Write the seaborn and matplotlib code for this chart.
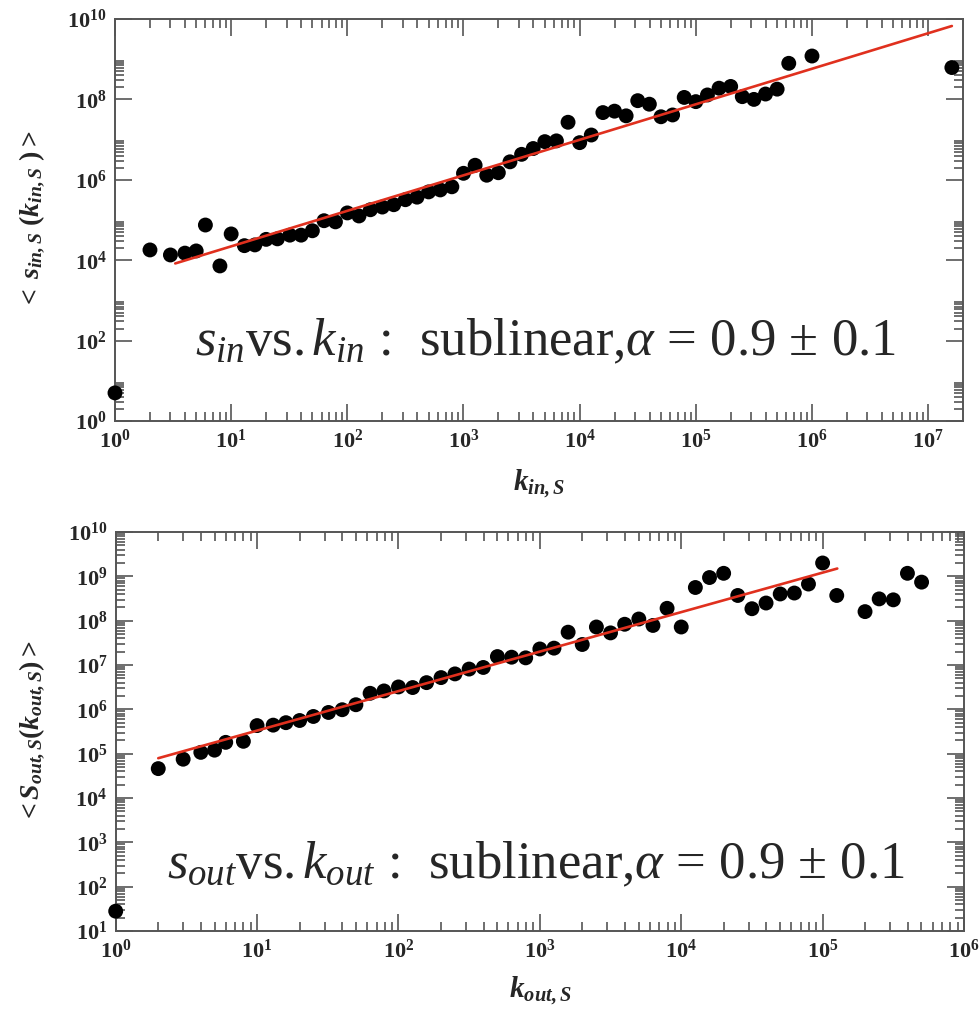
import numpy as np
import matplotlib
matplotlib.use("Agg")
import matplotlib.pyplot as plt
import matplotlib.ticker as mticker
import seaborn as sns

# ---------------- data ----------------
k_in = [1, 2, 3, 4, 5, 6, 8,
        10, 13, 16, 20, 25, 32, 40, 50, 63, 79,
        100, 126, 158, 200, 251, 316, 398, 501, 631, 794,
        1000, 1259, 1585, 1995, 2512, 3162, 3981, 5012, 6310, 7943,
        10000, 12589, 15849, 19953, 25119, 31623, 39811, 50119, 63096, 79433,
        100000, 125893, 158489, 199526, 251189, 316228, 398107, 501187, 630957,
        1000000, 16000000]
s_in = [5, 1.8e4, 1.35e4, 1.5e4, 1.7e4, 7.5e4, 7.2e3,
        4.5e4, 2.3e4, 2.4e4, 3.3e4, 3.4e4, 4.2e4, 4.2e4, 5.4e4, 9.6e4, 9.0e4,
        1.5e5, 1.26e5, 1.8e5, 2.1e5, 2.4e5, 3.2e5, 3.7e5, 5.0e5, 5.6e5, 6.7e5,
        1.45e6, 2.3e6, 1.3e6, 1.5e6, 2.8e6, 4.3e6, 6.0e6, 8.9e6, 9.3e6, 2.7e7,
        8.4e6, 1.3e7, 4.7e7, 5.1e7, 3.9e7, 9.3e7, 7.6e7, 3.7e7, 4.1e7, 1.12e8,
        8.8e7, 1.29e8, 1.9e8, 2.1e8, 1.17e8, 1.0e8, 1.36e8, 1.8e8, 7.9e8,
        1.2e9, 6.2e8]
fit_in_k = [3.3, 1.6e7]
fit_in_s = [8.3e3, 6.7e9]

k_out = [1, 2, 3, 4, 5, 6, 8,
         10, 13, 16, 20, 25, 32, 40, 50, 63, 79,
         100, 126, 158, 200, 251, 316, 398, 501, 631, 794,
         1000, 1259, 1585, 1995, 2512, 3162, 3981, 5012, 6310, 7943,
         10000, 12589, 15849, 19953, 25119, 31623, 39811, 50119, 63096, 79433,
         100000, 125893, 199526, 251189, 316228, 398107, 501187]
s_out = [28, 4.6e4, 7.5e4, 1.07e5, 1.2e5, 1.8e5, 1.9e5,
         4.3e5, 4.4e5, 5.0e5, 5.6e5, 6.9e5, 8.5e5, 9.8e5, 1.27e6, 2.3e6, 2.6e6,
         3.2e6, 3.1e6, 4.0e6, 5.2e6, 6.3e6, 8.1e6, 8.8e6, 1.55e7, 1.5e7, 1.45e7,
         2.3e7, 2.4e7, 5.5e7, 2.9e7, 7.2e7, 5.3e7, 8.3e7, 1.09e8, 7.8e7, 1.9e8,
         7.2e7, 5.6e8, 9.4e8, 1.17e9, 3.7e8, 1.86e8, 2.5e8, 4.0e8, 4.2e8, 6.7e8,
         2.0e9, 3.7e8, 1.6e8, 3.1e8, 2.95e8, 1.17e9, 7.4e8]
fit_out_k = [2.0, 1.27e5]
fit_out_s = [7.9e4, 1.5e9]

top_x_major_exp = list(range(0, 8))
top_y_major_exp = list(range(0, 11, 2))
top_y_minor_exp = [0, 2, 4, 6, 8]
bot_x_major_exp = list(range(0, 7))
bot_y_major_exp = list(range(1, 11))

top_ylabel = r'$\mathbf{<}\ \mathbfit{s}_{\mathbfit{in,S}}\ \mathbf{(}\mathbfit{k}_{\mathbfit{in,S}}\ \mathbf{)>}$'
top_xlabel = r'$\mathbfit{k}_{\mathbfit{in,S}}$'
bot_ylabel = r'$\mathbf{<}\mathbfit{S}_{\mathbfit{out,S}}\mathbf{(}\mathbfit{k}_{\mathbfit{out,S}}\mathbf{)>}$'
bot_xlabel = r'$\mathbfit{k}_{\mathbfit{out,S}}$'
top_note = r'$s_{in}$vs.$\,k_{in}$ :  sublinear,$\alpha$ = 0.9 ± 0.1'
bot_note = r'$s_{out}$vs.$\,k_{out}$ :  sublinear,$\alpha$ = 0.9 ± 0.1'

# ---------------- style ----------------
sns.set_style("white")
plt.rcParams.update({
    'font.family': ['Liberation Serif', 'DejaVu Serif'],
    'mathtext.fontset': 'custom',
    'mathtext.rm': 'Liberation Serif',
    'mathtext.it': 'Liberation Serif:italic',
    'mathtext.bf': 'Liberation Serif:bold',
    'mathtext.bfit': 'Liberation Serif:italic:bold',
    'axes.edgecolor': '#555555',
    'axes.linewidth': 1.4,
})

FRAME = '#555555'
RED = '#e0301e'

fig = plt.figure(figsize=(9.8, 10.15), dpi=100)
ax1 = fig.add_axes([0.11735, 0.58522, 0.86531, 0.39606])
ax2 = fig.add_axes([0.11806, 0.08276, 0.86561, 0.39310])

fmt = mticker.FuncFormatter(lambda v, p: r'$\mathbf{10^{%d}}$' % int(round(np.log10(v))))


def minors(exps):
    return [k * 10.0 ** e for e in exps for k in range(2, 10)]


def style_axes(ax, xlim, ylim, xmaj, ymaj, ymin_exps):
    ax.set_xscale('log')
    ax.set_yscale('log')
    ax.set_xlim(*xlim)
    ax.set_ylim(*ylim)
    ax.xaxis.set_major_locator(mticker.FixedLocator([10.0 ** e for e in xmaj]))
    xmin = [v for v in minors(range(xmaj[0], xmaj[-1] + 1)) if v <= xlim[1]]
    ax.xaxis.set_minor_locator(mticker.FixedLocator(xmin))
    ax.yaxis.set_major_locator(mticker.FixedLocator([10.0 ** e for e in ymaj]))
    ax.yaxis.set_minor_locator(mticker.FixedLocator(minors(ymin_exps)))
    ax.xaxis.set_major_formatter(fmt)
    ax.yaxis.set_major_formatter(fmt)
    ax.xaxis.set_minor_formatter(mticker.NullFormatter())
    ax.yaxis.set_minor_formatter(mticker.NullFormatter())
    ax.tick_params(which='both', direction='in', top=True, right=True,
                   bottom=True, left=True, color=FRAME, width=1.2,
                   labelsize=16, pad=6)
    ax.tick_params(which='major', length=12)
    ax.tick_params(which='minor', length=6.5)
    for s in ax.spines.values():
        s.set_visible(True)
        s.set_color(FRAME)
        s.set_linewidth(1.4)


# ---------------- top panel ----------------
style_axes(ax1, (1, 10 ** 7.3), (1, 1e10), top_x_major_exp, top_y_major_exp, top_y_minor_exp)
sns.scatterplot(x=k_in, y=s_in, ax=ax1, color='black', s=115, edgecolor='none',
                linewidth=0, zorder=3, clip_on=False)
sns.lineplot(x=fit_in_k, y=fit_in_s, ax=ax1, color=RED, linewidth=1.9, zorder=4)
ax1.set_xlim(1, 10 ** 7.3)
ax1.set_ylim(1, 1e10)
ax1.set_ylabel(top_ylabel, fontsize=20)
ax1.set_xlabel(top_xlabel, fontsize=21, va='top')
ax1.yaxis.set_label_coords(-0.08, 0.5)
ax1.xaxis.set_label_coords(0.5, -0.115)
ax1.text(0.094, 0.164, top_note, transform=ax1.transAxes, fontsize=38,
         ha='left', va='baseline')

# ---------------- bottom panel ----------------
style_axes(ax2, (1, 1e6), (10, 1e10), bot_x_major_exp, bot_y_major_exp, list(range(1, 10)))
sns.scatterplot(x=k_out, y=s_out, ax=ax2, color='black', s=115, edgecolor='none',
                linewidth=0, zorder=3, clip_on=False)
sns.lineplot(x=fit_out_k, y=fit_out_s, ax=ax2, color=RED, linewidth=1.9, zorder=4)
ax2.set_xlim(1, 1e6)
ax2.set_ylim(10, 1e10)
ax2.set_ylabel(bot_ylabel, fontsize=20)
ax2.set_xlabel(bot_xlabel, fontsize=21, va='top')
ax2.yaxis.set_label_coords(-0.081, 0.5)
ax2.xaxis.set_label_coords(0.5, -0.108)
ax2.text(0.0605, 0.133, bot_note, transform=ax2.transAxes, fontsize=38,
         ha='left', va='baseline')

fig.savefig('out.png', dpi=100, facecolor='white')
